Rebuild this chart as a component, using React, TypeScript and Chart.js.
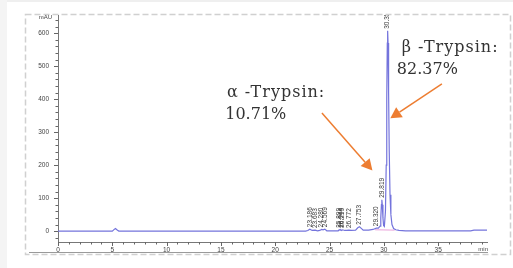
import React, { useEffect, useRef } from "react";
import { Chart, registerables } from "chart.js";

Chart.register(...registerables);

// Chromatogram trace (retention time in min, absorbance in mAU)
const traceTimes = [
  0, 5.0, 5.2, 5.3, 5.45, 5.6, 22.8, 23.0, 23.186, 23.4, 23.683, 23.9, 24.1, 24.28, 24.4, 24.569, 24.75,
  25.8, 25.899, 25.97, 26.044, 26.12, 26.21, 26.4, 26.6, 26.772, 27.0, 27.4, 27.6, 27.753, 27.9, 28.1,
  28.6, 29.0, 29.32, 29.5, 29.65, 29.72, 29.78, 29.819, 29.86, 29.92, 29.98, 30.05, 30.15, 30.22, 30.27,
  30.32, 30.352, 30.39, 30.44, 30.5, 30.57, 30.65, 30.75, 30.9, 31.1, 31.4, 32.0, 38.0, 38.3, 39.5,
];
const traceValues = [
  0, 0, 6, 8, 3, 0, 0, 2, 6, 2, 3, 1, 2, 5, 4, 6, 1,
  1, 4, 3, 4, 2, 4, 2, 2, 3, 2, 3, 10, 13, 9, 3,
  3, 5, 9, 9, 15, 40, 80, 95, 80, 40, 17, 14, 60, 200, 400,
  570, 607, 570, 420, 240, 110, 50, 20, 8, 4, 2, 1, 1, 3, 3,
];

// Integration baseline (pink)
const baselineTimes = [29.2, 31.0];
const baselineValues = [4, 3];

// Peak annotations
const peakLabels = ["23.186", "23.683", "24.280", "24.569", "25.899", "26.044", "26.210", "26.772", "27.753", "29.320", "29.819", "30.352"];
const peakTimes = [23.186, 23.683, 24.28, 24.569, 25.899, 26.044, 26.21, 26.772, 27.753, 29.32, 29.819, 30.352];
const peakValues = [6, 3, 5, 6, 4, 4, 4, 3, 13, 9, 95, 607];

// Axis ticks
const xMajorTicks = [0, 5, 10, 15, 20, 25, 30, 35];
const yMajorTicks = [0, 100, 200, 300, 400, 500, 600];

const alphaLines = ["\u03b1 -Trypsin:", "10.71%"];
const betaLines = ["\u03b2 -Trypsin:", "82.37%"];

const decorPlugin = {
  id: "decor",
  beforeDraw(chart: any) {
    const ctx = chart.ctx;
    const W = chart.width;
    const H = chart.height;
    ctx.save();
    ctx.fillStyle = "#ffffff";
    ctx.fillRect(0, 0, W, H);
    ctx.fillStyle = "#f4f4f4";
    ctx.fillRect(0, 0, 7, H);
    ctx.fillStyle = "#efefef";
    ctx.fillRect(7, 0, W - 7, 2);
    // dashed frame
    ctx.strokeStyle = "#d0d0d0";
    ctx.lineWidth = 1.5;
    ctx.setLineDash([6, 3]);
    ctx.strokeRect(25.5, 14.5, 485, 240);
    ctx.setLineDash([]);
    // solid bottom rule
    ctx.strokeStyle = "#9a9a9a";
    ctx.lineWidth = 1;
    ctx.beginPath();
    ctx.moveTo(29, 252.5);
    ctx.lineTo(488, 252.5);
    ctx.stroke();
    ctx.restore();
  },
  afterDraw(chart: any) {
    const ctx = chart.ctx;
    const xs = chart.scales.x;
    const ys = chart.scales.y;
    const area = chart.chartArea;
    ctx.save();
    ctx.strokeStyle = "#666";
    ctx.lineWidth = 1;
    // y ticks
    for (let v = -20; v <= 640; v += 20) {
      const py = Math.round(ys.getPixelForValue(v)) + 0.5;
      const len = v % 100 === 0 ? 4 : 2.5;
      ctx.beginPath();
      ctx.moveTo(area.left, py);
      ctx.lineTo(area.left - len, py);
      ctx.stroke();
    }
    // x ticks
    for (let t = 0; t <= 39; t += 1) {
      const px = Math.round(xs.getPixelForValue(t)) + 0.5;
      const len = t % 5 === 0 ? 4 : 2.5;
      ctx.beginPath();
      ctx.moveTo(px, area.bottom);
      ctx.lineTo(px, area.bottom + len);
      ctx.stroke();
    }
    // axis unit labels
    ctx.fillStyle = "#444";
    ctx.font = "6px 'Liberation Sans', Arial, sans-serif";
    ctx.textBaseline = "middle";
    ctx.textAlign = "right";
    ctx.fillText("mAU", area.left - 6, area.top + 2);
    ctx.textAlign = "right";
    ctx.fillText("min", area.right + 1, area.bottom + 7.5);

    // peak labels (rotated)
    ctx.save();
    ctx.beginPath();
    ctx.rect(area.left, area.top, area.right - area.left, area.bottom - area.top);
    ctx.clip();
    ctx.font = "6.5px 'Liberation Sans', Arial, sans-serif";
    ctx.fillStyle = "#3a3a3a";
    ctx.textAlign = "left";
    ctx.textBaseline = "middle";
    peakLabels.forEach((lab, i) => {
      const px = xs.getPixelForValue(peakTimes[i]);
      const py = ys.getPixelForValue(peakValues[i]) - 2;
      ctx.save();
      ctx.translate(px, py);
      ctx.rotate(-Math.PI / 2);
      ctx.fillText(lab, 0, 0);
      ctx.restore();
    });
    ctx.restore();

    // annotations
    const drawText = (lines: string[], v: number[], tt: number[]) => {
      ctx.font = "16px 'DejaVu Serif', 'Liberation Serif', serif";
      ctx.fillStyle = "#333";
      ctx.textAlign = "left";
      ctx.textBaseline = "middle";
      lines.forEach((s, i) => {
        (ctx as any).letterSpacing = i === 0 ? "1px" : "0px";
        ctx.fillText(s, xs.getPixelForValue(tt[i]), ys.getPixelForValue(v[i]));
      });
      (ctx as any).letterSpacing = "0px";
    };
    drawText(alphaLines, [419, 352], [15.55, 15.4]);
    drawText(betaLines, [555, 488], [31.65, 31.2]);

    const arrow = (t0: number, v0: number, t1: number, v1: number) => {
      const x0 = xs.getPixelForValue(t0);
      const y0 = ys.getPixelForValue(v0);
      const x1 = xs.getPixelForValue(t1);
      const y1 = ys.getPixelForValue(v1);
      const ang = Math.atan2(y1 - y0, x1 - x0);
      const head = 11;
      const hw = 6;
      const bx = x1 - head * Math.cos(ang);
      const by = y1 - head * Math.sin(ang);
      ctx.strokeStyle = "#ed7d31";
      ctx.fillStyle = "#ed7d31";
      ctx.lineWidth = 1.5;
      ctx.beginPath();
      ctx.moveTo(x0, y0);
      ctx.lineTo(bx, by);
      ctx.stroke();
      ctx.beginPath();
      ctx.moveTo(x1, y1);
      ctx.lineTo(bx + hw * Math.sin(ang), by - hw * Math.cos(ang));
      ctx.lineTo(bx - hw * Math.sin(ang), by + hw * Math.cos(ang));
      ctx.closePath();
      ctx.fill();
    };
    arrow(24.3, 358, 28.95, 184);
    arrow(35.35, 446, 30.6, 342);
    ctx.restore();
  },
};

export default function App() {
  const ref = useRef<HTMLCanvasElement | null>(null);
  useEffect(() => {
    if (!ref.current) return;
    const chart = new Chart(ref.current, {
      type: "line",
      data: {
        datasets: [
          {
            data: traceTimes.map((t, i) => ({ x: t, y: traceValues[i] })),
            borderColor: "#7474dc",
            borderWidth: 1.2,
            pointRadius: 0,
            tension: 0,
            fill: false,
          },
          {
            data: baselineTimes.map((t, i) => ({ x: t, y: baselineValues[i] })),
            borderColor: "#e58ad0",
            borderWidth: 0.8,
            pointRadius: 0,
            tension: 0,
            fill: false,
          },
        ],
      },
      options: {
        responsive: false,
        animation: false,
        events: [],
        layout: { padding: { left: 0, right: 26, top: 15, bottom: 0 } },
        plugins: { legend: { display: false }, tooltip: { enabled: false }, title: { display: false } },
        scales: {
          x: {
            type: "linear",
            min: 0,
            max: 39.5,
            afterFit: (s: any) => {
              s.height = 26;
            },
            afterBuildTicks: (s: any) => {
              s.ticks = xMajorTicks.map((v) => ({ value: v }));
            },
            grid: { display: false, drawTicks: true, tickLength: 3 },
            border: { display: true, color: "#777", width: 1 },
            ticks: {
              autoSkip: false,
              maxRotation: 0,
              padding: 1,
              color: "#444",
              font: { size: 6.5, family: "'Liberation Sans', Arial, sans-serif" },
            },
          },
          y: {
            type: "linear",
            min: -33,
            max: 655,
            afterFit: (s: any) => {
              s.width = 58;
            },
            afterBuildTicks: (s: any) => {
              s.ticks = yMajorTicks.map((v) => ({ value: v }));
            },
            grid: { display: false, drawTicks: true, tickLength: 5 },
            border: { display: true, color: "#777", width: 1 },
            ticks: {
              padding: 4,
              color: "#444",
              font: { size: 6.5, family: "'Liberation Sans', Arial, sans-serif" },
            },
          },
        },
      },
      plugins: [decorPlugin],
    } as any);
    return () => chart.destroy();
  }, []);
  return (
    <div style={{ position: "absolute", left: 0, top: 0, width: 513, height: 268 }}>
      <canvas ref={ref} width={513} height={268} />
    </div>
  );
}
